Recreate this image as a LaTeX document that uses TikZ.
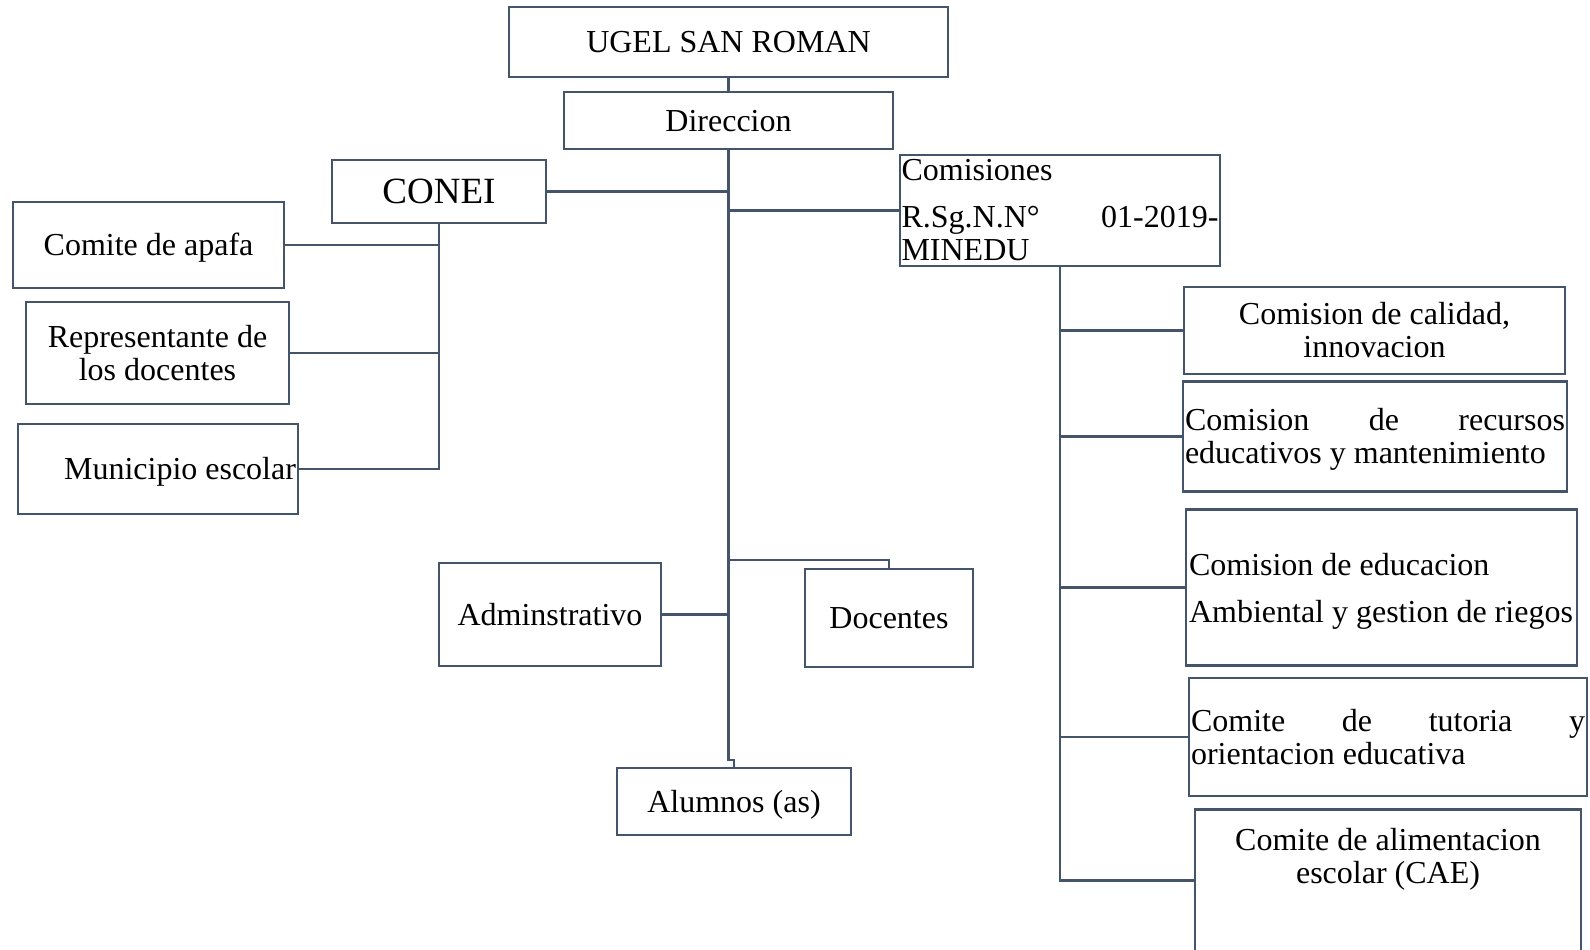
\documentclass[tikz,border=0pt]{standalone}
\usepackage{fontspec}
\setmainfont{Liberation Serif}
\usepackage{tikz}
\definecolor{linecol}{HTML}{44546A}

\begin{document}
\begin{tikzpicture}[x=1pt, y=-1pt,
    box/.style={draw=linecol, line width=2.5pt, rectangle, inner xsep=2pt, inner ysep=0pt,
        align=center, font=\fontsize{32}{33}\selectfont,
        execute at begin node={\spaceskip=0pt\xspaceskip=0pt}},
    oneline/.style={text height=26pt, text depth=5pt},
    link/.style={draw=linecol, line width=2.5pt}]

    \path[use as bounding box, clip] (0,0) rectangle (1590,950);

    % top of the chart
    \node[box, oneline, minimum width=439pt, minimum height=70pt] (ugel) at (728.5,42) {UGEL SAN ROMAN};
    \node[box, oneline, minimum width=329pt, minimum height=57pt] (dir) at (728.5,120.5) {Direccion};

    % left branch: conei and its members
    \node[box, minimum width=214pt, minimum height=63pt, font=\fontsize{37}{40}\selectfont] (conei) at (439,191.5) {CONEI};
    \node[box, oneline, minimum width=271pt, minimum height=86pt] (apafa) at (148.5,245) {Comite de apafa};
    \node[box, minimum width=263pt, minimum height=102pt] (rep) at (157.5,353) {Representante de\\los docentes};
    \node[box, oneline, minimum width=280pt, minimum height=90pt, text width=276pt, align=flush right] (mun) at (158,469) {Municipio escolar};

    % middle: staff and students
    \node[box, oneline, minimum width=222pt, minimum height=103pt] (adm) at (550,614.5) {Adminstrativo};
    \node[box, oneline, minimum width=168pt, minimum height=98pt] (doc) at (889,618) {Docentes};
    \node[box, oneline, minimum width=234pt, minimum height=67pt] (alum) at (734,801.5) {Alumnos (as)};

    % right branch: comisiones
    \node[box, minimum width=320pt, minimum height=111pt, inner xsep=1.5pt, text width=317pt, align=flush left] (com) at (1060,210.5)
        {Comisiones\\[14pt]R.Sg.N.N°\hfill 01-2019-\\MINEDU};
    \node[box, minimum width=381pt, minimum height=87pt] (cal) at (1374.5,330.5) {Comision de calidad,\\innovacion};
    \node[box, anchor=north, minimum width=384pt, text width=380pt, align=flush left, text height=49pt, text depth=61pt] (rec) at (1375,380)
        {Comision\hfill de\hfill recursos\\educativos y mantenimiento};
    \node[box, anchor=north, minimum width=391pt, inner xsep=0.5pt, text width=390pt, align=flush left, text height=66pt, text depth=90pt] (edu) at (1381.5,508)
        {\hspace*{2.5pt}Comision de educacion\\[14.5pt]\hspace*{2.5pt}Ambiental y gestion de riegos};
    \node[box, minimum width=398pt, minimum height=118pt, text width=394pt, align=flush left] (tut) at (1388,737)
        {Comite\hfill de\hfill tutoria\hfill y\\orientacion educativa};
    \node[box, anchor=north, minimum width=386pt, text width=382pt, align=flush center, text height=41pt, text depth=113pt] (ali) at (1388,808)
        {Comite de alimentacion\\escolar (CAE)};

    % levels where the main line turns
    \coordinate (docy) at (0,560);
    \coordinate (jog) at (0,760);

    \draw[link] (ugel.south) -- (dir.north);
    \draw[link] (dir.south) -- (dir.south |- jog) -| (alum.north);
    \draw[link] (conei.east) -- (conei.east -| dir.south);
    \draw[link] (dir.south |- com.west) -- (com.west);
    \draw[link] (adm.east) -- (adm.east -| dir.south);
    \draw[link] (dir.south |- docy) -| (doc.north);

    \draw[link] (conei.south) |- (mun.east);
    \draw[link] (apafa.east) -- (apafa.east -| conei.south);
    \draw[link] (rep.east) -- (rep.east -| conei.south);

    \draw[link] (com.south) |- ([yshift=6pt]ali.west);
    \foreach \b in {cal,rec,edu,tut}
        \draw[link] (\b.west -| com.south) -- (\b.west);

\end{tikzpicture}
\end{document}
